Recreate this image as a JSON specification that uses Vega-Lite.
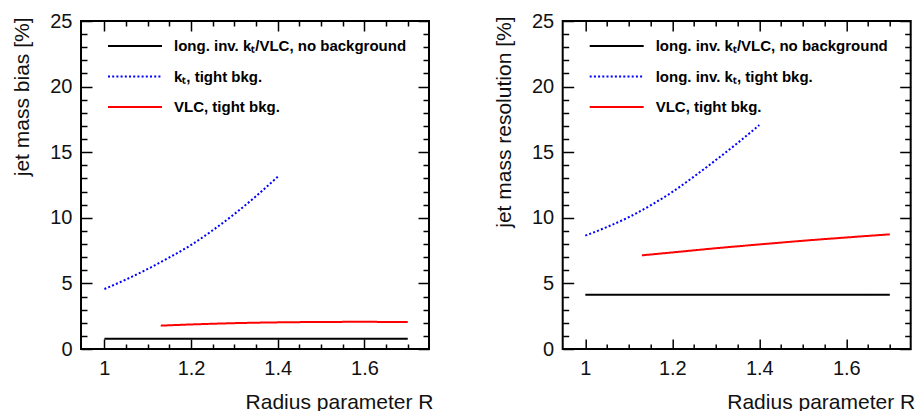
{
 "$schema": "https://vega.github.io/schema/vega-lite/v6.json",
 "autosize": {"type": "none"},
 "padding": {"left": 81, "top": 21, "right": 836, "bottom": 390},
 "background": "white",
 "bounds": "flush",
 "spacing": 133.7,
 "resolve": {"scale": {"color": "independent", "strokeDash": "independent"}, "legend": {"color": "independent", "strokeDash": "independent"}},
 "config": {
  "view": {"stroke": "black", "strokeWidth": 2},
  "axis": {"grid": false, "domain": false, "tickColor": "black", "tickWidth": 1.5, "labelFont": "Liberation Sans", "labelFontSize": 20, "labelColor": "#111", "titleFont": "Liberation Sans", "titleFontSize": 21, "titleFontWeight": "normal", "titleColor": "#111", "labelFlush": false, "labelOverlap": false}
 },
 "hconcat": [
  {
   "width": 348, "height": 328,
   "data": {"values": [
    {"R": 1.0, "v": 0.78, "series": "long. inv. kₜ/VLC, no background"},
    {"R": 1.7, "v": 0.78, "series": "long. inv. kₜ/VLC, no background"},
    {"R": 1.0, "v": 4.57, "series": "kₜ, tight bkg."},
    {"R": 1.05, "v": 5.3, "series": "kₜ, tight bkg."},
    {"R": 1.1, "v": 6.1, "series": "kₜ, tight bkg."},
    {"R": 1.15, "v": 6.98, "series": "kₜ, tight bkg."},
    {"R": 1.2, "v": 7.93, "series": "kₜ, tight bkg."},
    {"R": 1.25, "v": 9.05, "series": "kₜ, tight bkg."},
    {"R": 1.3, "v": 10.29, "series": "kₜ, tight bkg."},
    {"R": 1.35, "v": 11.65, "series": "kₜ, tight bkg."},
    {"R": 1.4, "v": 13.13, "series": "kₜ, tight bkg."},
    {"R": 1.13, "v": 1.78, "series": "VLC, tight bkg."},
    {"R": 1.2, "v": 1.87, "series": "VLC, tight bkg."},
    {"R": 1.3, "v": 1.97, "series": "VLC, tight bkg."},
    {"R": 1.4, "v": 2.03, "series": "VLC, tight bkg."},
    {"R": 1.5, "v": 2.06, "series": "VLC, tight bkg."},
    {"R": 1.6, "v": 2.07, "series": "VLC, tight bkg."},
    {"R": 1.7, "v": 2.05, "series": "VLC, tight bkg."}
   ]},
   "resolve": {"axis": {"x": "independent", "y": "independent"}},
   "layer": [
    {
     "mark": {"type": "line", "strokeWidth": 2, "interpolate": "monotone"},
     "encoding": {
      "x": {"field": "R", "type": "quantitative", "scale": {"domain": [0.946, 1.749], "nice": false, "zero": false},
            "axis": {"orient": "bottom", "zindex": 1, "values": [1, 1.2, 1.4, 1.6], "format": "~g", "tickSize": -10, "tickColor": "black", "tickWidth": 1.5, "labelPadding": 19.5, "title": "Radius parameter R", "titleX": 352, "titleY": 59, "titleAlign": "right", "titleBaseline": "alphabetic"}},
      "y": {"field": "v", "type": "quantitative", "scale": {"domain": [0, 25], "nice": false, "zero": false},
            "axis": {"orient": "left", "zindex": 1, "values": [0, 5, 10, 15, 20, 25], "tickSize": -11, "tickColor": "black", "tickWidth": 1.5, "labelPadding": 20, "title": "jet mass bias [%]", "titleAngle": 270, "titleX": -52.5, "titleY": -4, "titleAlign": "right", "titleBaseline": "alphabetic"}},
      "color": {"field": "series", "type": "nominal",
                "scale": {"domain": ["long. inv. kₜ/VLC, no background", "kₜ, tight bkg.", "VLC, tight bkg."], "range": ["black", "blue", "red"]},
                "legend": {"title": null, "orient": "none", "legendX": 44, "legendY": 15, "symbolType": "M-3,0H3", "symbolSize": 324, "symbolStrokeWidth": 2, "labelFont": "Liberation Sans", "labelFontSize": 15, "labelFontWeight": "bold", "labelColor": "black", "labelOffset": 29, "rowPadding": 12.5, "padding": 0, "labelLimit": 400}},
      "strokeDash": {"field": "series", "type": "nominal",
                "scale": {"domain": ["long. inv. kₜ/VLC, no background", "kₜ, tight bkg.", "VLC, tight bkg."], "range": [[1, 0], [2, 2.2], [1, 0]]},
                "legend": {"title": null, "orient": "none", "legendX": 44, "legendY": 15, "symbolType": "M-3,0H3", "symbolSize": 324, "symbolStrokeWidth": 2, "labelFont": "Liberation Sans", "labelFontSize": 15, "labelFontWeight": "bold", "labelColor": "black", "labelOffset": 29, "rowPadding": 12.5, "padding": 0, "labelLimit": 400}}
     }
    },
    {
     "mark": {"type": "point", "opacity": 0},
     "encoding": {
      "x": {"field": "R", "type": "quantitative", "scale": {"domain": [0.946, 1.749], "nice": false, "zero": false},
            "axis": {"orient": "top", "zindex": 1, "values": [1, 1.2, 1.4, 1.6], "labels": false, "tickSize": -10, "tickColor": "black", "tickWidth": 1.5, "title": null}},
      "y": {"field": "v", "type": "quantitative", "scale": {"domain": [0, 25], "nice": false, "zero": false},
            "axis": {"orient": "right", "zindex": 1, "values": [0, 5, 10, 15, 20, 25], "labels": false, "tickSize": -11, "tickColor": "black", "tickWidth": 1.5, "title": null}}
     }
    },
    {
     "mark": {"type": "point", "opacity": 0},
     "encoding": {
      "x": {"field": "R", "type": "quantitative", "scale": {"domain": [0.946, 1.749], "nice": false, "zero": false},
            "axis": {"orient": "bottom", "zindex": 1, "values": [1.05, 1.1, 1.15, 1.25, 1.3, 1.35, 1.45, 1.5, 1.55, 1.65, 1.7], "labels": false, "tickSize": -5, "tickColor": "black", "tickWidth": 1.5, "title": null}},
      "y": {"field": "v", "type": "quantitative", "scale": {"domain": [0, 25], "nice": false, "zero": false},
            "axis": {"orient": "left", "zindex": 1, "values": [1, 2, 3, 4, 6, 7, 8, 9, 11, 12, 13, 14, 16, 17, 18, 19, 21, 22, 23, 24], "labels": false, "tickSize": -6, "tickColor": "black", "tickWidth": 1.5, "title": null}}
     }
    },
    {
     "mark": {"type": "point", "opacity": 0},
     "encoding": {
      "x": {"field": "R", "type": "quantitative", "scale": {"domain": [0.946, 1.749], "nice": false, "zero": false},
            "axis": {"orient": "top", "zindex": 1, "values": [1.05, 1.1, 1.15, 1.25, 1.3, 1.35, 1.45, 1.5, 1.55, 1.65, 1.7], "labels": false, "tickSize": -5, "tickColor": "black", "tickWidth": 1.5, "title": null}},
      "y": {"field": "v", "type": "quantitative", "scale": {"domain": [0, 25], "nice": false, "zero": false},
            "axis": {"orient": "right", "zindex": 1, "values": [1, 2, 3, 4, 6, 7, 8, 9, 11, 12, 13, 14, 16, 17, 18, 19, 21, 22, 23, 24], "labels": false, "tickSize": -6, "tickColor": "black", "tickWidth": 1.5, "title": null}}
     }
    }
   ]
  },
  {
   "width": 348, "height": 328,
   "data": {"values": [
    {"R": 1.0, "v": 4.14, "series": "long. inv. kₜ/VLC, no background"},
    {"R": 1.7, "v": 4.14, "series": "long. inv. kₜ/VLC, no background"},
    {"R": 1.0, "v": 8.64, "series": "long. inv. kₜ, tight bkg."},
    {"R": 1.05, "v": 9.3, "series": "long. inv. kₜ, tight bkg."},
    {"R": 1.1, "v": 10.05, "series": "long. inv. kₜ, tight bkg."},
    {"R": 1.15, "v": 10.95, "series": "long. inv. kₜ, tight bkg."},
    {"R": 1.2, "v": 11.97, "series": "long. inv. kₜ, tight bkg."},
    {"R": 1.25, "v": 13.15, "series": "long. inv. kₜ, tight bkg."},
    {"R": 1.3, "v": 14.4, "series": "long. inv. kₜ, tight bkg."},
    {"R": 1.35, "v": 15.7, "series": "long. inv. kₜ, tight bkg."},
    {"R": 1.4, "v": 17.07, "series": "long. inv. kₜ, tight bkg."},
    {"R": 1.13, "v": 7.14, "series": "VLC, tight bkg."},
    {"R": 1.2, "v": 7.36, "series": "VLC, tight bkg."},
    {"R": 1.3, "v": 7.68, "series": "VLC, tight bkg."},
    {"R": 1.4, "v": 7.97, "series": "VLC, tight bkg."},
    {"R": 1.5, "v": 8.25, "series": "VLC, tight bkg."},
    {"R": 1.6, "v": 8.5, "series": "VLC, tight bkg."},
    {"R": 1.7, "v": 8.74, "series": "VLC, tight bkg."}
   ]},
   "resolve": {"axis": {"x": "independent", "y": "independent"}},
   "layer": [
    {
     "mark": {"type": "line", "strokeWidth": 2, "interpolate": "monotone"},
     "encoding": {
      "x": {"field": "R", "type": "quantitative", "scale": {"domain": [0.948, 1.748], "nice": false, "zero": false},
            "axis": {"orient": "bottom", "zindex": 1, "values": [1, 1.2, 1.4, 1.6], "format": "~g", "tickSize": -10, "tickColor": "black", "tickWidth": 1.5, "labelPadding": 19.5, "title": "Radius parameter R", "titleX": 352, "titleY": 59, "titleAlign": "right", "titleBaseline": "alphabetic"}},
      "y": {"field": "v", "type": "quantitative", "scale": {"domain": [0, 25], "nice": false, "zero": false},
            "axis": {"orient": "left", "zindex": 1, "values": [0, 5, 10, 15, 20, 25], "tickSize": -11, "tickColor": "black", "tickWidth": 1.5, "labelPadding": 20, "title": "jet mass resolution [%]", "titleAngle": 270, "titleX": -52.5, "titleY": -5, "titleAlign": "right", "titleBaseline": "alphabetic"}},
      "color": {"field": "series", "type": "nominal",
                "scale": {"domain": ["long. inv. kₜ/VLC, no background", "long. inv. kₜ, tight bkg.", "VLC, tight bkg."], "range": ["black", "blue", "red"]},
                "legend": {"title": null, "orient": "none", "legendX": 44, "legendY": 15, "symbolType": "M-3,0H3", "symbolSize": 324, "symbolStrokeWidth": 2, "labelFont": "Liberation Sans", "labelFontSize": 15, "labelFontWeight": "bold", "labelColor": "black", "labelOffset": 29, "rowPadding": 12.5, "padding": 0, "labelLimit": 400}},
      "strokeDash": {"field": "series", "type": "nominal",
                "scale": {"domain": ["long. inv. kₜ/VLC, no background", "long. inv. kₜ, tight bkg.", "VLC, tight bkg."], "range": [[1, 0], [2, 2.2], [1, 0]]},
                "legend": {"title": null, "orient": "none", "legendX": 44, "legendY": 15, "symbolType": "M-3,0H3", "symbolSize": 324, "symbolStrokeWidth": 2, "labelFont": "Liberation Sans", "labelFontSize": 15, "labelFontWeight": "bold", "labelColor": "black", "labelOffset": 29, "rowPadding": 12.5, "padding": 0, "labelLimit": 400}}
     }
    },
    {
     "mark": {"type": "point", "opacity": 0},
     "encoding": {
      "x": {"field": "R", "type": "quantitative", "scale": {"domain": [0.948, 1.748], "nice": false, "zero": false},
            "axis": {"orient": "top", "zindex": 1, "values": [1, 1.2, 1.4, 1.6], "labels": false, "tickSize": -10, "tickColor": "black", "tickWidth": 1.5, "title": null}},
      "y": {"field": "v", "type": "quantitative", "scale": {"domain": [0, 25], "nice": false, "zero": false},
            "axis": {"orient": "right", "zindex": 1, "values": [0, 5, 10, 15, 20, 25], "labels": false, "tickSize": -11, "tickColor": "black", "tickWidth": 1.5, "title": null}}
     }
    },
    {
     "mark": {"type": "point", "opacity": 0},
     "encoding": {
      "x": {"field": "R", "type": "quantitative", "scale": {"domain": [0.948, 1.748], "nice": false, "zero": false},
            "axis": {"orient": "bottom", "zindex": 1, "values": [1.05, 1.1, 1.15, 1.25, 1.3, 1.35, 1.45, 1.5, 1.55, 1.65, 1.7], "labels": false, "tickSize": -5, "tickColor": "black", "tickWidth": 1.5, "title": null}},
      "y": {"field": "v", "type": "quantitative", "scale": {"domain": [0, 25], "nice": false, "zero": false},
            "axis": {"orient": "left", "zindex": 1, "values": [1, 2, 3, 4, 6, 7, 8, 9, 11, 12, 13, 14, 16, 17, 18, 19, 21, 22, 23, 24], "labels": false, "tickSize": -6, "tickColor": "black", "tickWidth": 1.5, "title": null}}
     }
    },
    {
     "mark": {"type": "point", "opacity": 0},
     "encoding": {
      "x": {"field": "R", "type": "quantitative", "scale": {"domain": [0.948, 1.748], "nice": false, "zero": false},
            "axis": {"orient": "top", "zindex": 1, "values": [1.05, 1.1, 1.15, 1.25, 1.3, 1.35, 1.45, 1.5, 1.55, 1.65, 1.7], "labels": false, "tickSize": -5, "tickColor": "black", "tickWidth": 1.5, "title": null}},
      "y": {"field": "v", "type": "quantitative", "scale": {"domain": [0, 25], "nice": false, "zero": false},
            "axis": {"orient": "right", "zindex": 1, "values": [1, 2, 3, 4, 6, 7, 8, 9, 11, 12, 13, 14, 16, 17, 18, 19, 21, 22, 23, 24], "labels": false, "tickSize": -6, "tickColor": "black", "tickWidth": 1.5, "title": null}}
     }
    }
   ]
  }
 ]
}
